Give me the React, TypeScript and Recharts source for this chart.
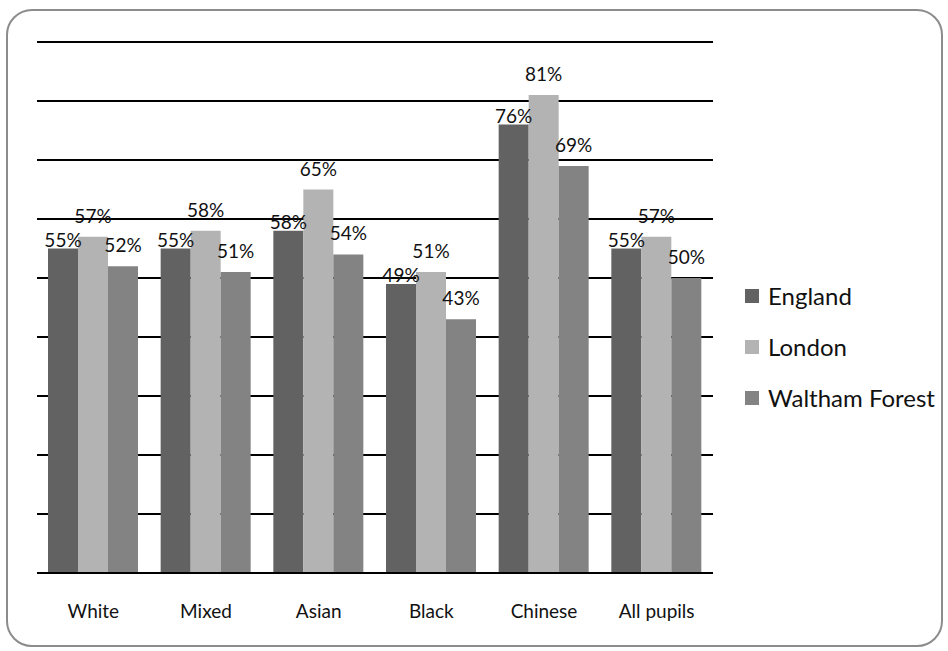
import { BarChart, Bar, XAxis, YAxis, CartesianGrid, Legend, LabelList } from "recharts";

const categories = ["White", "Mixed", "Asian", "Black", "Chinese", "All pupils"];
const england = [55, 55, 58, 49, 76, 55];
const london = [57, 58, 65, 51, 81, 57];
const walthamForest = [52, 51, 54, 43, 69, 50];
const yTicks = [0, 10, 20, 30, 40, 50, 60, 70, 80, 90];

const COLORS = {
  England: "#626262",
  London: "#b3b3b3",
  "Waltham Forest": "#838383",
};

const FONT = "Lato, 'Noto Sans', sans-serif";

const data = categories.map((name, i) => ({
  name,
  England: england[i],
  London: london[i],
  "Waltham Forest": walthamForest[i],
}));

const pct = (v: any) => `${v}%`;

function LegendBox({ payload }: any) {
  return (
    <div style={{ fontFamily: FONT }}>
      {(payload || []).map((p: any) => (
        <div key={p.value} style={{ display: "flex", alignItems: "center", height: 51 }}>
          <span style={{ width: 14, height: 14, background: p.color, marginRight: 9, display: "inline-block" }} />
          <span style={{ fontSize: 24, color: "#111" }}>{p.value}</span>
        </div>
      ))}
    </div>
  );
}

export default function App() {
  return (
    <div style={{ position: "absolute", left: 0, top: 0, width: 948, height: 651, background: "#fff" }}>
      <div
        style={{
          position: "absolute",
          left: 6,
          top: 9,
          width: 933,
          height: 634,
          border: "2px solid #8c8c8c",
          borderRadius: 26,
        }}
      />
      <div style={{ position: "absolute", left: 0, top: 0 }}>
        <BarChart
          width={948}
          height={651}
          data={data}
          margin={{ top: 42, left: 37, right: 35, bottom: 48 }}
          barGap={0}
          barCategoryGap={11}
        >
          <CartesianGrid vertical={false} stroke="#000" strokeWidth={1.8} />
          <XAxis
            dataKey="name"
            height={30}
            tickLine={false}
            tickSize={0}
            tickMargin={32}
            axisLine={{ stroke: "#000", strokeWidth: 1.8 }}
            tick={{ fontSize: 19, fill: "#111", fontFamily: FONT }}
          />
          <YAxis hide domain={[0, 90]} ticks={yTicks} />
          <Legend
            layout="vertical"
            align="right"
            verticalAlign="middle"
            content={<LegendBox />}
            wrapperStyle={{ left: 745, top: 270, width: 200 }}
          />
          <Bar dataKey="England" fill={COLORS.England} isAnimationActive={false}>
            <LabelList dataKey="England" position="top" offset={2} formatter={pct} fill="#111" fontSize={19} fontFamily={FONT} />
          </Bar>
          <Bar dataKey="London" fill={COLORS.London} isAnimationActive={false}>
            <LabelList dataKey="London" position="top" offset={14} formatter={pct} fill="#111" fontSize={19} fontFamily={FONT} />
          </Bar>
          <Bar dataKey="Waltham Forest" fill={COLORS["Waltham Forest"]} isAnimationActive={false}>
            <LabelList dataKey="Waltham Forest" position="top" offset={14} formatter={pct} fill="#111" fontSize={19} fontFamily={FONT} />
          </Bar>
        </BarChart>
      </div>
    </div>
  );
}
